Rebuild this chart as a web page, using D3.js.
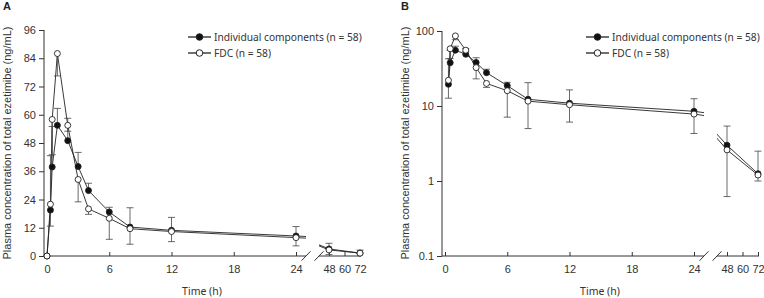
<!DOCTYPE html>
<html>
<head>
<meta charset="utf-8">
<script src="https://cdn.jsdelivr.net/npm/d3@7"></script>
<style>
body { margin: 0; background: #fff; }
</style>
</head>
<body>
<div id="canvas"></div>
<script>
"use strict"
let svgWidth = 764;
let svgHeight = 298;

// sampling times (h)
let times = [0, 0.33, 0.5, 1, 2, 3, 4, 6, 8, 12, 24, 48, 72];
// mean concentrations (ng/mL)
let individualMean = [0, 19.5, 37.8, 55.5, 49, 38, 27.8, 18.7, 12.3, 10.9, 8.5, 3.0, 1.25];
let fdcMean = [0, 22, 58, 86, 55.5, 32.5, 20, 16, 11.6, 10.4, 7.8, 2.6, 1.2];
// error bar ends: individual goes up, FDC goes down
let individualUpper = [0, 42.6, 55, 62.7, 58.5, 44, 30.9, 20.7, 20.5, 16.4, 12.5, 5.4, 2.5];
let fdcLower = [0, 12.7, 43, 76.5, 53, 23, 17.7, 7.1, 5.0, 6.1, 4.3, 0.62, 1.0];

let linearTicks = [0, 12, 24, 36, 48, 60, 72, 84, 96];
let logTicks = [0.1, 1, 10, 100];
let leftTimeTicks = [0, 6, 12, 18, 24];
let rightTimeTicks = [48, 60, 72];
let legendLabels = ["Individual components (n = 58)", "FDC (n = 58)"];

let axisColor = "#333";
let tickFont = "'Liberation Sans', Arial, sans-serif";
let labelFont = "'Noto Sans', 'Open Sans', sans-serif";

let svg = d3.select("#canvas")
    .append("svg")
    .attr("width", svgWidth)
    .attr("height", svgHeight);

let xAxisY = 256;

function drawPanel(axisX, yScale, yTicks, yFormat, panelName, isLog) {
    let x0 = axisX + 3;
    let xLeft = d3.scaleLinear().domain([0, 24]).range([x0, x0 + 249]);
    let xRight = d3.scaleLinear().domain([48, 72]).range([x0 + 282, x0 + 313]);
    let leftEnd = x0 + 259;
    let rightStart = x0 + 272;

    function xPos(t) {
        return t <= 24 ? xLeft(t) : xRight(t);
    }

    let g = svg.append("g");

    // clip areas either side of the axis break
    let defs = svg.append("defs");
    defs.append("clipPath").attr("id", "clipL" + panelName)
        .append("rect")
        .attr("x", axisX).attr("y", 0)
        .attr("width", leftEnd - axisX).attr("height", svgHeight);
    defs.append("clipPath").attr("id", "clipR" + panelName)
        .append("rect")
        .attr("x", rightStart).attr("y", 0)
        .attr("width", 60).attr("height", svgHeight);

    // y axis
    let yAxis = d3.axisLeft(yScale)
        .tickValues(yTicks)
        .tickFormat(yFormat)
        .tickSize(5)
        .tickPadding(3);
    let yg = g.append("g")
        .attr("transform", "translate(" + axisX + ",0)")
        .call(yAxis);
    yg.select(".domain").remove();
    yg.selectAll("line").attr("stroke", axisColor);
    yg.selectAll("text")
        .attr("font-family", tickFont)
        .attr("font-size", 11)
        .attr("fill", "#333");
    g.append("line")
        .attr("x1", axisX).attr("x2", axisX)
        .attr("y1", xAxisY).attr("y2", yScale(yTicks[yTicks.length - 1]))
        .attr("stroke", axisColor);

    // x axis, two pieces
    let pieces = [[xLeft, leftTimeTicks], [xRight, rightTimeTicks]];
    for (let i = 0; i < pieces.length; i++) {
        let xg = g.append("g")
            .attr("transform", "translate(0," + xAxisY + ")")
            .call(d3.axisBottom(pieces[i][0])
                .tickValues(pieces[i][1])
                .tickSize(-4)
                .tickPadding(9));
        xg.select(".domain").remove();
        xg.selectAll("line").attr("stroke", axisColor);
        xg.selectAll("text")
            .attr("font-family", tickFont)
            .attr("font-size", 11)
            .attr("fill", "#333");
    }
    g.append("line")
        .attr("x1", axisX).attr("x2", leftEnd)
        .attr("y1", xAxisY).attr("y2", xAxisY)
        .attr("stroke", axisColor);
    g.append("line")
        .attr("x1", rightStart).attr("x2", xRight(72) + 1)
        .attr("y1", xAxisY).attr("y2", xAxisY)
        .attr("stroke", axisColor);
    let breaks = [leftEnd, rightStart];
    for (let i = 0; i < breaks.length; i++) {
        g.append("line")
            .attr("x1", breaks[i] - 4.5).attr("y1", xAxisY + 4.7)
            .attr("x2", breaks[i] + 4.5).attr("y2", xAxisY - 4.7)
            .attr("stroke", axisColor);
    }

    // axis titles
    g.append("text")
        .attr("transform", "translate(" + (axisX - 33) + ",143) rotate(-90)")
        .attr("text-anchor", "middle")
        .attr("font-family", tickFont)
        .attr("font-size", 11)
        .attr("fill", "#333")
        .text("Plasma concentration of total ezetimibe (ng/mL)");
    g.append("text")
        .attr("x", axisX + 158)
        .attr("y", 295)
        .attr("text-anchor", "middle")
        .attr("font-family", labelFont)
        .attr("font-size", 10.5)
        .attr("fill", "#333")
        .text("Time (h)");
    g.append("text")
        .attr("x", axisX - 41)
        .attr("y", 10)
        .attr("font-family", tickFont)
        .attr("font-size", 11)
        .attr("font-weight", "bold")
        .attr("fill", "#222")
        .text(panelName);

    let series = [
        {mean: individualMean, bar: individualUpper, fill: "#111"},
        {mean: fdcMean, bar: fdcLower, fill: "#fff"}
    ];

    // lines, drawn once per side of the break
    for (let s = 0; s < series.length; s++) {
        let pts = times.map(function(t, i) {
            return {t: t, v: series[s].mean[i]};
        }).filter(function(d) { return !isLog || d.v > 0; });
        let scales = [[xLeft, "clipL"], [xRight, "clipR"]];
        for (let k = 0; k < scales.length; k++) {
            let line = d3.line()
                .x(function(d) { return scales[k][0](d.t); })
                .y(function(d) { return yScale(d.v); });
            g.append("path")
                .datum(pts)
                .attr("d", line)
                .attr("fill", "none")
                .attr("stroke", "#222")
                .attr("stroke-width", 0.9)
                .attr("clip-path", "url(#" + scales[k][1] + panelName + ")");
        }
    }

    // error bars
    for (let s = 0; s < series.length; s++) {
        for (let i = 0; i < times.length; i++) {
            let m = series[s].mean[i];
            let b = series[s].bar[i];
            if (m <= 0 || b <= 0 || b == m) continue;
            let x = xPos(times[i]);
            g.append("line")
                .attr("x1", x).attr("x2", x)
                .attr("y1", yScale(m)).attr("y2", yScale(b))
                .attr("stroke", "#444")
                .attr("stroke-width", 0.8);
            g.append("line")
                .attr("x1", x - 3.5).attr("x2", x + 3.5)
                .attr("y1", yScale(b)).attr("y2", yScale(b))
                .attr("stroke", "#444")
                .attr("stroke-width", 0.8);
        }
    }

    // markers
    for (let s = 0; s < series.length; s++) {
        let pts = times.map(function(t, i) {
            return {t: t, v: series[s].mean[i]};
        }).filter(function(d) { return !isLog || d.v > 0; });
        g.selectAll(".pt" + s)
            .data(pts)
            .join("circle")
            .attr("cx", function(d) { return xPos(d.t); })
            .attr("cy", function(d) { return yScale(d.v); })
            .attr("r", 3)
            .attr("fill", series[s].fill)
            .attr("stroke", "#222")
            .attr("stroke-width", 0.9);
    }

    // legend
    let legendX = axisX + 144;
    let legendY = [37, 53];
    for (let i = 0; i < legendLabels.length; i++) {
        g.append("line")
            .attr("x1", legendX).attr("x2", legendX + 23)
            .attr("y1", legendY[i]).attr("y2", legendY[i])
            .attr("stroke", "#222")
            .attr("stroke-width", 1.3);
        g.append("circle")
            .attr("cx", legendX + 11.5)
            .attr("cy", legendY[i])
            .attr("r", 3.3)
            .attr("fill", series[i].fill)
            .attr("stroke", "#222")
            .attr("stroke-width", 1);
        g.append("text")
            .attr("x", legendX + 26)
            .attr("y", legendY[i])
            .attr("dominant-baseline", "central")
            .attr("font-family", labelFont)
            .attr("font-size", 10.2)
            .attr("fill", "#333")
            .text(legendLabels[i]);
    }
}

let yLinear = d3.scaleLinear()
    .domain([0, 96])
    .range([xAxisY, 30]);

let yLog = d3.scaleLog()
    .domain([0.1, 100])
    .range([xAxisY, 31]);

drawPanel(44, yLinear, linearTicks, function(d) { return d; }, "A", false);
drawPanel(442, yLog, logTicks, function(d) { return String(d); }, "B", true);
</script>
</body>
</html>
